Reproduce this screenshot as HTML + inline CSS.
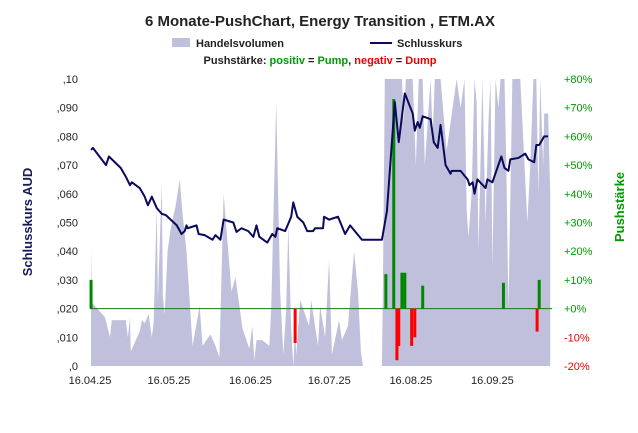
<!DOCTYPE html>
<html><head><meta charset="utf-8"><style>
body{margin:0;background:#fff;font-family:"Liberation Sans",sans-serif}
svg text{font-family:"Liberation Sans",sans-serif}
</style></head><body>
<svg id="c" width="638" height="428">
<text x="320" y="26" text-anchor="middle" font-size="15" font-weight="bold" fill="#222">6 Monate-PushChart, Energy Transition , ETM.AX</text>
<g>
<rect x="172" y="38" width="18" height="9" fill="#c0c0dc"/>
<text x="196" y="47" font-size="11" font-weight="bold" fill="#222">Handelsvolumen</text>
<line x1="370" y1="43" x2="392" y2="43" stroke="#0a0a5a" stroke-width="2"/>
<text x="397" y="47" font-size="11" font-weight="bold" fill="#222">Schlusskurs</text>
<text x="320" y="64" text-anchor="middle" font-size="11" font-weight="bold" fill="#222">Pushstärke: <tspan fill="#009900">positiv</tspan> = <tspan fill="#009900">Pump</tspan>, <tspan fill="#ee0000">negativ</tspan> = <tspan fill="#ee0000">Dump</tspan></text>
</g>
<text transform="translate(32,222) rotate(-90)" text-anchor="middle" font-size="13" font-weight="bold" fill="#1a1a5a">Schlusskurs AUD</text>
<text transform="translate(624,207) rotate(-90)" text-anchor="middle" font-size="13" font-weight="bold" fill="#009900">Pushstärke</text>
<g id="plot"></g>
</svg>
<script>
const volDays=[0.4,0.8,5.7,7.6,8.3,13.6,14.4,15.2,15.5,18.9,19.7,20.8,22.3,23.5,24.2,25.4,25.8,27.3,27.7,28.4,29.5,30.7,32.6,34.1,35.2,36.7,39,41.7,42.8,45.8,47.7,49.2,50.8,53.8,55.3,58,60.6,61.7,62.5,63.3,65.5,68.2,68.9,70.8,72.3,73.5,74.6,75.4,76.5,77.3,78,78.4,79.9,83.3,84.1,86.7,87.5,89.4,90.9,92,94.7,95.8,98.1,100.4,101.9,103,103.8,111,111.4,112.1,115.9,118.6,119.3,120.1,122.7,123.9,125,126.5,127.3,129.5,130.3,131.1,133.3,135.6,139.4,140.9,142.4,143.2,143.9,145.1,146.2,147,147.7,149.2,150.4,151.5,152.3,153,154.2,155.3,156.1,157.6,158.3,159.1,160.6,163.6,166.3,167.4,168.6,169.7,170.5,171.2,172.3,172.7,174.2,175];
const volVals=[40,22,17,10,16,16,10,17,5,12,16,15,18,10,15,56,23,64,24,18,40,48,56,65,53,40,7,21,7,11,7,3,60,26,31,13,6,14,2,9,9,7,20,92,26,4,20,49,13,0,14,4,23,14,23,7,21,10,37,4,16,9,14,40,26,5,0,0,30,100,100,100,85,100,100,70,100,100,70,100,80,100,100,75,100,90,100,55,45,60,100,92,40,100,50,85,100,35,100,90,100,100,70,20,100,100,50,70,100,100,60,100,70,88,88,60];
const priceDays=[0.4,1.1,6.1,7.2,11.7,13.6,15.2,15.9,18.9,20.8,22,23.5,25.4,27.3,28.8,33,34.8,36,36.7,37.1,40.5,41.3,43.6,46.6,47.7,49.6,50.8,54.5,55.7,57.6,60.2,62.1,63.3,64.4,67.4,69.3,70.5,71.2,74.2,76.5,77.3,78.8,81.1,82.6,84.8,85.6,88.6,89,90.9,94.3,97,98.9,103.4,109.8,111,112.9,115.9,117.4,119.7,122.7,123.5,124.6,125.4,126.5,129.5,130.7,132.2,133.3,135.2,137.1,137.5,140.9,143.6,144.3,145.5,146.2,147.3,150.4,151.1,153,156.4,157.6,159.1,159.8,162.9,165.5,166.7,168.9,169.7,170.8,172.7,174.2];
const priceVals=[0.0753,0.076,0.070,0.073,0.069,0.066,0.063,0.064,0.062,0.059,0.056,0.059,0.055,0.053,0.0526,0.049,0.046,0.047,0.049,0.048,0.049,0.046,0.0456,0.044,0.0456,0.044,0.051,0.050,0.0467,0.048,0.047,0.045,0.049,0.045,0.043,0.046,0.045,0.048,0.047,0.052,0.057,0.052,0.050,0.047,0.047,0.048,0.048,0.052,0.051,0.052,0.046,0.049,0.044,0.044,0.044,0.054,0.092,0.078,0.095,0.088,0.082,0.085,0.083,0.087,0.086,0.078,0.076,0.084,0.070,0.067,0.068,0.068,0.065,0.063,0.064,0.060,0.065,0.062,0.065,0.064,0.073,0.069,0.068,0.072,0.0725,0.074,0.072,0.071,0.077,0.077,0.080,0.080];
const pushDays=[0.4,78,112.5,115.5,116.7,117.4,118.6,119.7,122.3,123.5,126.5,157.2,170,170.8];
const pushVals=[10,-12,12,73,-18,-13,12.5,12.5,-13,-10,8,9,-8,10];
const leftTicks=[",0",",010",",020",",030",",040",",050",",060",",070",",080",",090",",10"];
const rightTicks=["-20%","-10%","+0%","+10%","+20%","+30%","+40%","+50%","+60%","+70%","+80%"];
const dateLabels=["16.04.25","16.05.25","16.06.25","16.07.25","16.08.25","16.09.25"];
const dateDays=[0,30,61,91,122,153];

const L=90,R=552,T=79,B=366;
const xS=d=>L+d*2.63;
const yP=v=>B-(v/0.1)*(B-T);
const yPct=p=>B-((p+20)/100)*(B-T);
const yV=v=>B-(v/100)*(B-T);
const NS="http://www.w3.org/2000/svg";
const g=document.getElementById('plot');
function mk(t,a){const e=document.createElementNS(NS,t);for(const k in a)e.setAttribute(k,a[k]);g.appendChild(e);return e;}

let d='M'+xS(volDays[0])+','+B;
volDays.forEach((x,i)=>{d+=' L'+xS(x)+','+yV(volVals[i]);});
d+=' L'+xS(volDays[volDays.length-1])+','+B+' Z';
const area=mk('path',{d:d,fill:'#c0c0dc'});



const zl=mk('line',{x1:L,x2:R,y1:yPct(0),y2:yPct(0),stroke:'#1a7a1a','stroke-width':1});



pushDays.forEach((x,i)=>{const v=pushVals[i];const y0=yPct(0),y1=yPct(v);
const r=mk('rect',{x:xS(x)-1.5,width:3,y:Math.min(y0,y1),height:Math.abs(y1-y0),fill:v>=0?'#008800':'#ff0000'});

});

const pts=priceDays.map((x,i)=>xS(x)+','+yP(priceVals[i])).join(' ');
const pl=mk('polyline',{points:pts,fill:'none',stroke:'#0a0a5a','stroke-width':2,'stroke-linejoin':'round'});



leftTicks.forEach((t,i)=>{const e=mk('text',{x:78,y:B-i*(B-T)/10+4,'text-anchor':'end','font-size':11,fill:'#222'});e.textContent=t;

});
rightTicks.forEach((t,i)=>{const e=mk('text',{x:564,y:B-i*(B-T)/10+4,'font-size':11,fill:t[0]=='-'?'#ee0000':'#009900'});e.textContent=t;

});
dateLabels.forEach((t,i)=>{const e=mk('text',{x:xS(dateDays[i]),y:384,'text-anchor':'middle','font-size':11,fill:'#222'});e.textContent=t;

});
</script>
</body></html>
